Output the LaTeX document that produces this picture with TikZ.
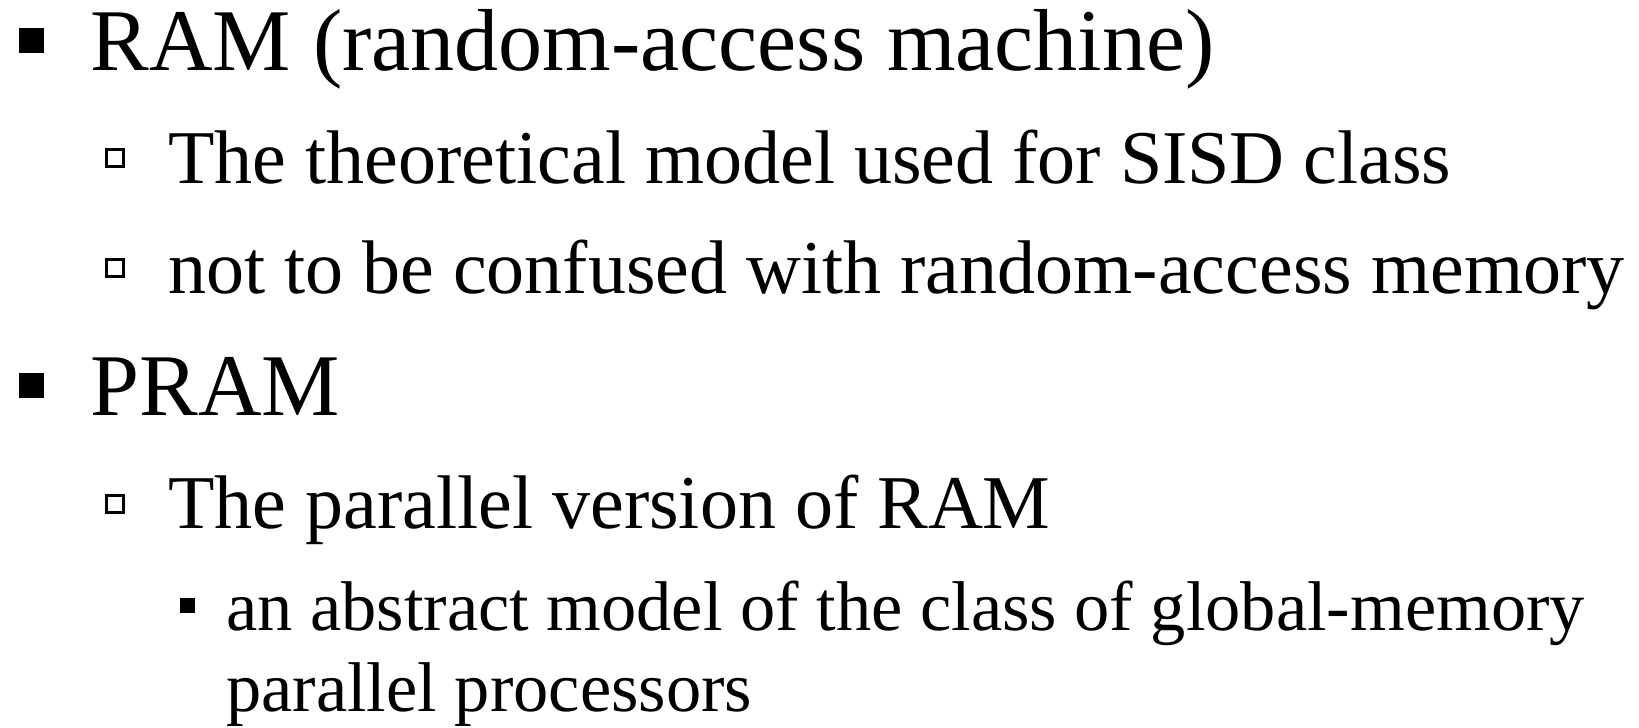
\documentclass[tikz,border=0pt]{standalone}
\usepackage{fontspec}
\setmainfont{Liberation Serif}
\begin{document}
\begin{tikzpicture}[x=1pt,y=-1pt,
  lone/.style={anchor=base west,inner sep=0pt,font=\fontsize{88}{88}\selectfont},
  ltwo/.style={anchor=base west,inner sep=0pt,font=\fontsize{76}{76}\selectfont},
  lthree/.style={anchor=base west,inner sep=0pt,font=\fontsize{70.4}{70.4}\selectfont},
  bone/.style={rectangle,fill=black,inner sep=0pt,minimum size=25pt},
  btwo/.style={rectangle,draw=black,line width=3pt,inner sep=0pt,minimum size=17pt},
  bthree/.style={rectangle,fill=black,inner sep=0pt,minimum size=15pt}]
\useasboundingbox (0,0) rectangle (1639,728);
% level 1
\node[bone] (b1) at (31.5,40.5) {};
\node[lone] (t1) at (90.5,70) {RAM (random-access machine)};
% level 2
\node[btwo] (b2) at (114.5,158) {};
\node[ltwo] (t2) at (168,183) {The theoretical model used for SISD class};
\node[btwo] (b3) at (114.5,267.5) {};
\node[ltwo] (t3) at (168,293) {not to be confused with random-access memory};
% level 1
\node[bone] (b4) at (31.5,385.5) {};
\node[lone] (t4) at (90.5,415) {PRAM};
% level 2
\node[btwo] (b5) at (114.5,503.5) {};
\node[ltwo] (t5) at (168,528) {The parallel version of RAM};
% level 3
\node[bthree] (b6) at (187.5,605.5) {};
\node[lthree] (t6) at (226,630) {an abstract model of the class of global-memory};
\node[lthree] (t7) at (226,711) {parallel processors};
\end{tikzpicture}
\end{document}
